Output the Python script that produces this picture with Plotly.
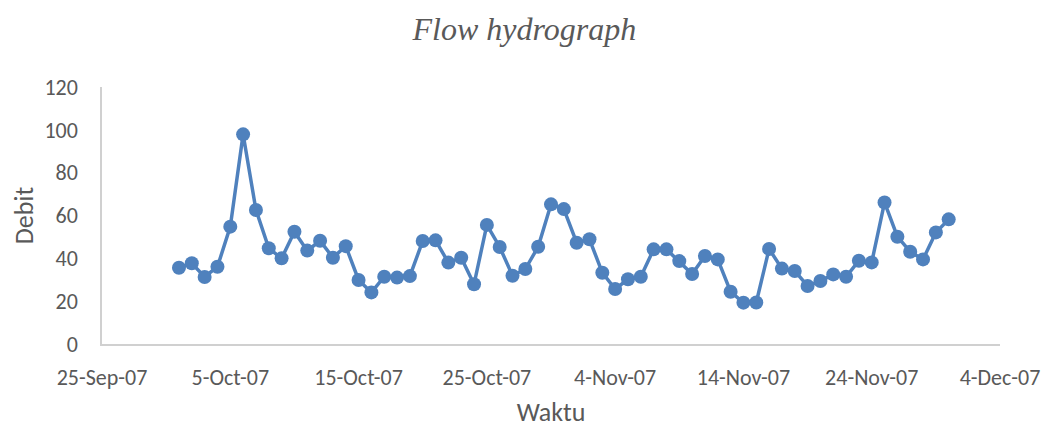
import pandas as pd
import plotly.graph_objs as go


# ---- data (daily discharge, Oct-Nov 2007)
start_date = "2007-10-01"
debit = [
    35.6, 37.7, 31.3, 36.1, 54.8, 97.9, 62.6, 44.7, 40.0, 52.4,
    43.6, 48.2, 40.3, 45.7, 29.9, 24.1, 31.4, 31.0, 31.7, 48.1,
    48.4, 38.0, 40.3, 27.9, 55.6, 45.3, 31.9, 35.0, 45.4, 65.2,
    63.0, 47.3, 48.9, 33.3, 25.7, 30.2, 31.4, 44.2, 44.2, 38.7,
    32.7, 41.1, 39.5, 24.4, 19.3, 19.4, 44.4, 35.2, 34.1, 27.1,
    29.4, 32.5, 31.4, 38.9, 38.1, 66.1, 50.1, 43.1, 39.5, 52.1,
    58.2,
]
dates = pd.date_range(start_date, periods=len(debit), freq="D")

tick_dates = ["2007-09-25", "2007-10-05", "2007-10-15", "2007-10-25",
              "2007-11-04", "2007-11-14", "2007-11-24", "2007-12-04"]
tick_labels = ["25-Sep-07", "5-Oct-07", "15-Oct-07", "25-Oct-07",
               "4-Nov-07", "14-Nov-07", "24-Nov-07", "4-Dec-07"]

blue = "#4f81bd"
grey_txt = "#595959"
grey_line = "#d0d0d0"
tick_font = dict(family="Calibri, Carlito, Lato, sans-serif", size=22, color=grey_txt)
title_font = dict(family="Calibri, Carlito, Lato, sans-serif", size=26, color=grey_txt)

trace = go.Scatter(
    x=dates,
    y=debit,
    mode="lines+markers",
    line=dict(color=blue, width=3.5),
    marker=dict(color=blue, size=14),
    showlegend=False,
)

# page body has an 8px margin, so the figure is a bit smaller than the window
layout = go.Layout(
    width=1041,
    height=420,
    paper_bgcolor="white",
    plot_bgcolor="white",
    margin=dict(l=94, r=49, t=79, b=84, autoexpand=False),
    title=dict(
        text="<i>Flow hydrograph</i>",
        font=dict(family="Times New Roman, Liberation Serif, serif", size=32, color=grey_txt),
        x=0.496, xref="container", xanchor="center",
        y=1 - 21 / 420, yref="container", yanchor="middle",
    ),
    xaxis=dict(
        range=["2007-09-25", "2007-12-04"],
        tickvals=tick_dates,
        ticktext=tick_labels,
        tickfont=tick_font,
        ticks="outside", ticklen=13, tickcolor="rgba(0,0,0,0)",
        showgrid=False, zeroline=False, automargin=False,
        showline=True, linecolor=grey_line, linewidth=1.5,
        title=dict(text="Waktu", font=title_font, standoff=17),
    ),
    yaxis=dict(
        range=[0, 120],
        dtick=20,
        tickfont=tick_font,
        ticks="outside", ticklen=18, tickcolor="rgba(0,0,0,0)",
        showgrid=False, zeroline=False, automargin=False,
        showline=True, linecolor=grey_line, linewidth=1.5,
        title=dict(text="Debit", font=title_font, standoff=4),
    ),
)

fig = go.Figure(data=[trace], layout=layout)
fig.write_html("out.html")
